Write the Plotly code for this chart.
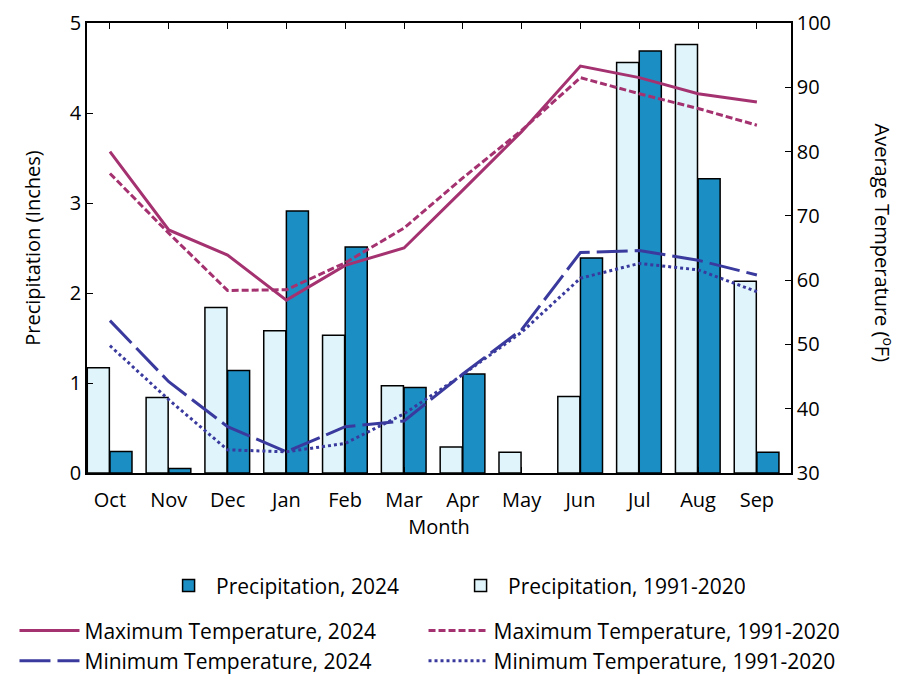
import plotly.graph_objects as go

months = ['Oct', 'Nov', 'Dec', 'Jan', 'Feb', 'Mar', 'Apr', 'May', 'Jun', 'Jul', 'Aug', 'Sep']
precip_2024 = [0.24, 0.05, 1.14, 2.91, 2.51, 0.95, 1.10, None, 2.39, 4.69, 3.27, 0.23]
precip_normal = [1.17, 0.84, 1.84, 1.58, 1.53, 0.97, 0.29, 0.23, 0.85, 4.56, 4.76, 2.13]
tmax_2024 = [80.0, 67.8, 63.9, 56.9, 62.3, 65.0, 74.0, 83.1, 93.3, 91.5, 89.0, 87.7]
tmax_normal = [76.6, 67.3, 58.4, 58.5, 62.7, 68.1, 75.9, 83.3, 91.5, 89.0, 86.7, 84.1]
tmin_2024 = [53.7, 44.2, 37.2, 33.3, 37.2, 38.1, 45.4, 52.3, 64.3, 64.6, 63.1, 60.8]
tmin_normal = [49.8, 41.4, 33.6, 33.3, 34.6, 39.2, 45.3, 51.9, 60.3, 62.6, 61.6, 58.2]

FONT = 'Open Sans'
MAGENTA = 'rgb(165,50,112)'
NAVY = 'rgb(58,58,158)'

fig = go.Figure()

# barres : normale a gauche du tick, 2024 a droite
fig.add_trace(go.Bar(
    x=months, y=precip_2024, name='Precipitation, 2024',
    offset=0.0, width=0.375,
    marker=dict(color='rgb(27,143,196)', line=dict(color='black', width=1.5)),
    legend='legend',
))
fig.add_trace(go.Bar(
    x=months, y=precip_normal, name='Precipitation, 1991-2020',
    offset=-0.385, width=0.375,
    marker=dict(color='rgb(224,245,251)', line=dict(color='black', width=1.5)),
    legend='legend',
))

# temperatures sur l'axe de droite (2024 -> legend2, normales -> legend3)
lines = [
    (tmax_2024, 'Maximum Temperature, 2024', MAGENTA, 'solid', 'legend2'),
    (tmax_normal, 'Maximum Temperature, 1991-2020', MAGENTA, '7px,3px', 'legend3'),
    (tmin_2024, 'Minimum Temperature, 2024', NAVY, '31px,7px', 'legend2'),
    (tmin_normal, 'Minimum Temperature, 1991-2020', NAVY, '3px,3px', 'legend3'),
]
for vals, name, color, dash, leg in lines:
    fig.add_trace(go.Scatter(
        x=months, y=vals, name=name, mode='lines', yaxis='y2',
        line=dict(color=color, width=3, dash=dash),
        legend=leg,
    ))

axis_common = dict(
    showline=True, linecolor='black', linewidth=1.5,
    ticks='inside', ticklen=6, tickcolor='black', tickwidth=1,
    showgrid=False, zeroline=False, automargin=False,
    tickfont=dict(family=FONT, size=20, color='black'),
)

legend_lines = dict(
    orientation='v', yanchor='top', y=-0.305, itemwidth=60,
    font=dict(family=FONT, size=21), bgcolor='rgba(0,0,0,0)',
)

# la page a une marge de 8px, d'ou 892x675
fig.update_layout(
    width=892, height=675,
    margin=dict(l=79, r=109, t=15, b=210, autoexpand=False),
    plot_bgcolor='white', paper_bgcolor='white',
    font=dict(family=FONT, size=20, color='black'),
    showlegend=True,
    xaxis=dict(
        **axis_common, mirror='ticks', type='category',
        range=[-0.39, 11.58], ticklabelstandoff=8,
        title=dict(text='Month', font=dict(family=FONT, size=20), standoff=7),
    ),
    yaxis=dict(
        **axis_common, range=[0, 5], dtick=1,
        title=dict(text='Precipitation (Inches)', font=dict(family=FONT, size=20), standoff=24),
    ),
    yaxis2=dict(
        **axis_common, overlaying='y', side='right', range=[30, 100], dtick=10,
    ),
    legend=dict(
        orientation='h', x=0.52, xanchor='center', y=-0.205, yanchor='top',
        entrywidth=232, entrywidthmode='pixels', itemwidth=45,
        font=dict(family=FONT, size=21), bgcolor='rgba(0,0,0,0)',
    ),
    legend2=dict(**legend_lines, x=-0.103, xanchor='left'),
    legend3=dict(**legend_lines, x=0.478, xanchor='left'),
    annotations=[dict(
        text='Average Temperature (<sup>o</sup>F)', textangle=90,
        xref='paper', yref='paper', x=1.132, y=0.51, xanchor='center',
        showarrow=False, font=dict(family=FONT, size=20),
    )],
)

fig.write_html('out.html')
